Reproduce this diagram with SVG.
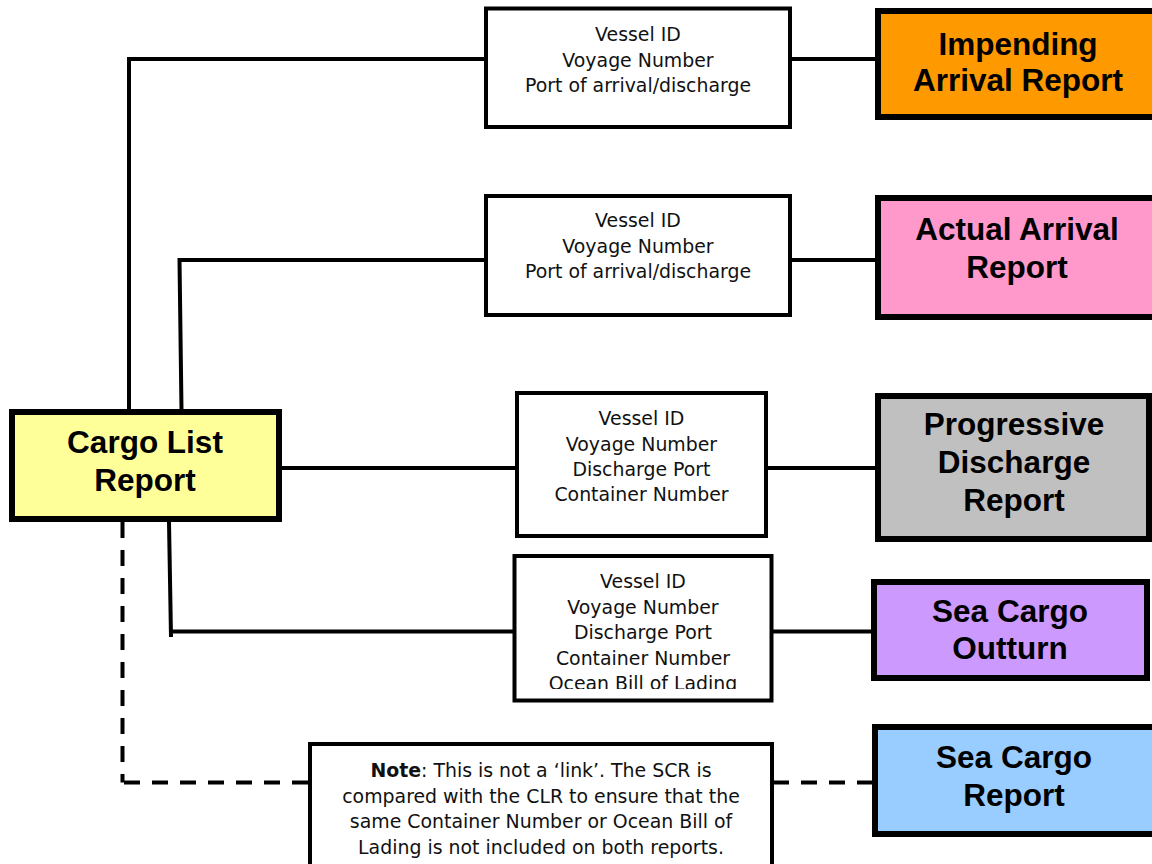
<svg xmlns="http://www.w3.org/2000/svg" width="1152" height="864" viewBox="0 0 1152 864">
<style>
.info{fill:#fff;stroke:#000;stroke-width:4}
.rep{stroke:#000;stroke-width:6}
.it{font-family:"DejaVu Sans",Verdana,sans-serif;font-size:18.9px;fill:#111;text-anchor:middle}
.tt{font-family:"Liberation Sans",Arial,sans-serif;font-size:31.5px;font-weight:bold;fill:#000;text-anchor:middle}
.ln{stroke:#000;stroke-width:4;fill:none}
.dl{stroke:#000;stroke-width:4;fill:none;stroke-dasharray:16 12}
</style>
<defs>
<clipPath id="c4"><rect x="514" y="556" width="258" height="133"/></clipPath>
</defs>
<rect width="1152" height="864" fill="#fff"/>
<g id="connectors">
<polyline class="ln" points="129,410 129,59 486,59"/>
<line class="ln" x1="790" y1="59" x2="877" y2="59"/>
<polyline class="ln" points="181.5,410 179.5,260 486,260"/>
<line class="ln" x1="790" y1="260" x2="877" y2="260"/>
<line class="ln" x1="280" y1="468" x2="516" y2="468"/>
<line class="ln" x1="767" y1="468" x2="876" y2="468"/>
<line class="ln" x1="169" y1="522" x2="171" y2="637"/>
<line class="ln" x1="171" y1="631.5" x2="513" y2="631.5"/>
<line class="ln" x1="773" y1="631.5" x2="872" y2="631.5"/>
<line class="dl" x1="122.5" y1="522" x2="122.5" y2="782.5"/>
<line class="dl" x1="124" y1="782.5" x2="309" y2="782.5"/>
<line class="dl" x1="773" y1="782.5" x2="873" y2="782.5"/>
</g>
<g id="clr">
<rect class="rep" x="12" y="412" width="267" height="107" fill="#FFFF99"/>
<text class="tt" x="145" y="453">Cargo List</text>
<text class="tt" x="145" y="491">Report</text>
</g>
<g id="info1">
<rect class="info" x="486" y="8.5" width="304" height="118.5"/>
<text class="it" x="638" y="41">Vessel ID</text>
<text class="it" x="638" y="66.5">Voyage Number</text>
<text class="it" x="638" y="92">Port of arrival/discharge</text>
</g>
<g id="info2">
<rect class="info" x="486" y="196" width="304" height="119"/>
<text class="it" x="638" y="227">Vessel ID</text>
<text class="it" x="638" y="253">Voyage Number</text>
<text class="it" x="638" y="278">Port of arrival/discharge</text>
</g>
<g id="info3">
<rect class="info" x="517" y="393" width="249" height="143"/>
<text class="it" x="641.5" y="425">Vessel ID</text>
<text class="it" x="641.5" y="451">Voyage Number</text>
<text class="it" x="641.5" y="476">Discharge Port</text>
<text class="it" x="641.5" y="501">Container Number</text>
</g>
<g id="info4">
<rect class="info" x="514.5" y="556" width="257" height="144.5"/>
<g clip-path="url(#c4)">
<text class="it" x="643" y="588">Vessel ID</text>
<text class="it" x="643" y="613.5">Voyage Number</text>
<text class="it" x="643" y="639">Discharge Port</text>
<text class="it" x="643" y="664.5">Container Number</text>
<text class="it" x="643" y="690">Ocean Bill of Lading</text>
</g>
</g>
<g id="note">
<rect class="info" x="310" y="744" width="462" height="130"/>
<text class="it" x="541" y="777"><tspan font-weight="bold">Note</tspan>: This is not a ‘link’. The SCR is</text>
<text class="it" x="541" y="802.5">compared with the CLR to ensure that the</text>
<text class="it" x="541" y="828">same Container Number or Ocean Bill of</text>
<text class="it" x="541" y="853.5">Lading is not included on both reports.</text>
</g>
<g id="impending">
<rect class="rep" x="878" y="11" width="290" height="106" fill="#FF9900"/>
<text class="tt" x="1018" y="55">Impending</text>
<text class="tt" x="1018" y="91">Arrival Report</text>
</g>
<g id="actual">
<rect class="rep" x="878" y="198" width="290" height="119" fill="#FF99CC"/>
<text class="tt" x="1017" y="240">Actual Arrival</text>
<text class="tt" x="1017" y="278">Report</text>
</g>
<g id="progressive">
<rect class="rep" x="878" y="396" width="271" height="143" fill="#C0C0C0"/>
<text class="tt" x="1014" y="435">Progressive</text>
<text class="tt" x="1014" y="473">Discharge</text>
<text class="tt" x="1014" y="511">Report</text>
</g>
<g id="outturn">
<rect class="rep" x="874" y="582" width="273" height="96" fill="#CC99FF"/>
<text class="tt" x="1010" y="622">Sea Cargo</text>
<text class="tt" x="1010" y="659">Outturn</text>
</g>
<g id="scr">
<rect class="rep" x="875" y="727" width="290" height="107" fill="#99CCFF"/>
<text class="tt" x="1014" y="768">Sea Cargo</text>
<text class="tt" x="1014" y="806">Report</text>
</g>
</svg>
